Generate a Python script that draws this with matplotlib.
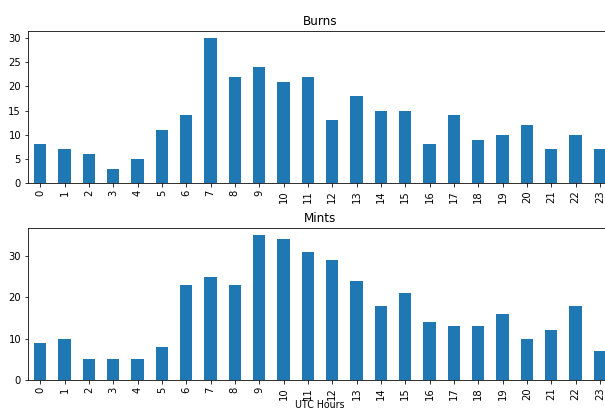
import pandas as pd
import matplotlib
matplotlib.use('Agg')
import matplotlib.pyplot as plt
from matplotlib.ticker import MultipleLocator

hours = list(range(24))
burns = [8, 7, 6, 3, 5, 11, 14, 30, 22, 24, 21, 22, 13, 18, 15, 15, 8, 14, 9, 10, 12, 7, 10, 7]
mints = [9, 10, 5, 5, 5, 8, 23, 25, 23, 35, 34, 31, 29, 24, 18, 21, 14, 13, 13, 16, 10, 12, 18, 7]

df = pd.DataFrame({'Burns': burns, 'Mints': mints}, index=hours)

fig = plt.figure(figsize=(605 / 72, 410 / 72), dpi=72)
# axes run past the right edge, like the cropped original
ax1 = fig.add_axes([28 / 605, 1 - 183 / 410, 584 / 605, 152 / 410])
ax2 = fig.add_axes([28 / 605, 1 - 380 / 410, 584 / 605, 152 / 410])

df['Burns'].plot(kind='bar', ax=ax1, color='#1f77b4')
ax1.set_title('Burns')
ax1.yaxis.set_major_locator(MultipleLocator(5))

df['Mints'].plot(kind='bar', ax=ax2, color='#1f77b4')
ax2.set_title('Mints')
ax2.set_xlabel('UTC Hours', labelpad=0, fontsize=9.5)
ax2.yaxis.set_major_locator(MultipleLocator(10))

fig.savefig('out.png', dpi=72)
